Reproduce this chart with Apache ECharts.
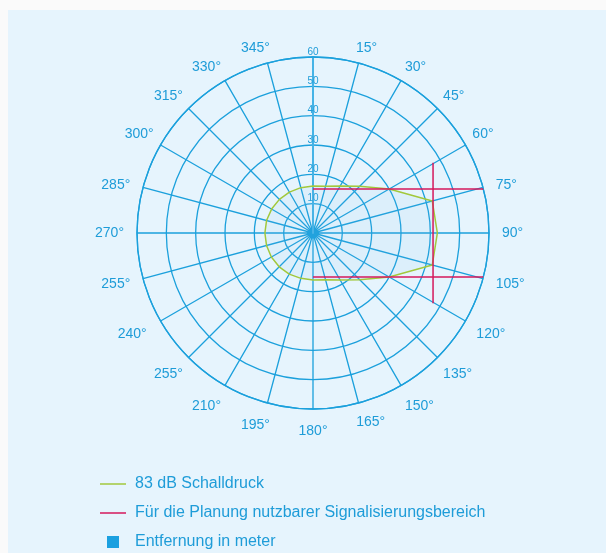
<!DOCTYPE html>
<html>
<head>
<meta charset="utf-8">
<script src="https://cdn.jsdelivr.net/npm/echarts@6/dist/echarts.min.js"></script>
<style>
  html, body { margin: 0; padding: 0; background: #fafafa; }
  #chart { position: absolute; left: 8px; top: 10px; width: 598px; height: 543px; background: #e6f4fd; }
</style>
</head>
<body>
<div id="chart"></div>
<script>
  // angle tick labels, one per 15 degrees (0 left empty, 225 printed as in the original)
  const angleLabels = ['', '15°', '30°', '45°', '60°', '75°', '90°', '105°', '120°', '135°', '150°', '165°',
    '180°', '195°', '210°', '255°', '240°', '255°', '270°', '285°', '300°', '315°', '330°', '345°', '']

  // 83 dB sound pressure contour: [distance m, angle deg]
  const greenAngles = [0, 15, 30, 45, 60, 75, 90, 105, 120, 135, 150, 165, 180,
    195, 210, 225, 240, 255, 270, 285, 300, 315, 330, 345, 360]
  const greenRadius = [16, 16.5, 18.5, 22.5, 30, 42.1, 42.4, 42.1, 30, 22.5, 18.5, 16.5, 16,
    16, 16.2, 16.3, 16.4, 16.4, 16.4, 16.4, 16.3, 16.2, 16.1, 16, 16]

  // usable signalling area boundary, three straight segments: [distance m, angle deg]
  const redTop = [[15, 0], [62.5, 76.1]]
  const redFront = [[47.4, 59.7], [47.4, 120.3]]
  const redBottom = [[62.5, 103.9], [15, 180]]

  const blue = '#1ba0dc'
  const textBlue = '#1e9cd8'
  const green = '#a2c83c'
  const red = '#d5195b'
  const font = 'Liberation Sans'

  // small paddings (top, right, bottom, left) so the angle labels sit like in the print
  const labelPadding = {
    1: [0, 0, 0, 12], 23: [0, 20, 0, 0],
    5: [0, 0, 0, 5], 6: [0, 0, 0, 5], 7: [8, 0, 0, 5],
    17: [8, 5, 0, 0], 18: [0, 5, 0, 0], 19: [0, 5, 0, 0],
    8: [2, 0, 0, 4], 16: [2, 7, 0, 0],
    9: [4, 0, 0, 0], 15: [4, 0, 0, 0],
    10: [7, 0, 0, 0], 12: [7, 0, 0, 0], 14: [7, 0, 0, 0],
    11: [4, 0, 0, 20], 13: [7, 20, 0, 0],
  }
  const labelRich = {}
  Object.keys(labelPadding).forEach(k => {
    labelRich['n' + k] = { fontSize: 14, color: textBlue, fontFamily: font, padding: labelPadding[k] }
  })

  const chart = echarts.init(document.getElementById('chart'))

  const redSeries = [redTop, redFront, redBottom].map(seg => ({
    name: 'Für die Planung nutzbarer Signalisierungsbereich',
    type: 'line',
    coordinateSystem: 'polar',
    symbol: 'none',
    clip: false,
    z: 4,
    lineStyle: { color: red, width: 1.5 },
    itemStyle: { color: red },
    data: seg,
  }))

  chart.setOption({
    animation: false,
    textStyle: { fontFamily: font },
    polar: { center: [305, 223], radius: 176 },
    angleAxis: {
      type: 'value',
      startAngle: 90,
      clockwise: true,
      min: 0,
      max: 360,
      interval: 15,
      axisLine: { lineStyle: { color: blue, width: 1.3 } },
      axisTick: { show: false },
      axisLabel: {
        margin: 8,
        fontSize: 14,
        color: textBlue,
        fontFamily: font,
        formatter: v => {
          const i = Math.round(v / 15)
          const t = angleLabels[i] || ''
          return labelPadding[i] && t ? '{n' + i + '|' + t + '}' : t
        },
        rich: labelRich,
      },
      splitLine: { lineStyle: { color: blue, width: 1.3 } },
    },
    radiusAxis: {
      type: 'value',
      min: 0,
      max: 60,
      interval: 10,
      axisLine: { lineStyle: { color: '#45b3e6', width: 2 } },
      axisTick: { show: false },
      axisLabel: {
        margin: 0,
        fontSize: 10,
        color: textBlue,
        fontFamily: font,
        align: 'center',
        verticalAlign: 'bottom',
        formatter: v => (v === 0 ? '' : String(v)),
      },
      splitLine: { lineStyle: { color: blue, width: 1.3 } },
    },
    legend: {
      orient: 'vertical',
      left: 92,
      top: 466,
      height: 90,
      padding: 0,
      itemWidth: 26,
      itemHeight: 12,
      itemGap: 13,
      selectedMode: false,
      textStyle: { fontSize: 16, color: textBlue, fontFamily: font, padding: [0, 0, 0, 4] },
      data: [
        { name: '83 dB Schalldruck', icon: 'path://M0,0H26V1.5H0Z' },
        { name: 'Für die Planung nutzbarer Signalisierungsbereich', icon: 'path://M0,0H26V1.5H0Z' },
        { name: 'Entfernung in meter', icon: 'path://M0,0H10V10H0Z' },
      ],
    },
    series: [
      {
        name: '83 dB Schalldruck',
        type: 'line',
        coordinateSystem: 'polar',
        symbol: 'none',
        z: 3,
        lineStyle: { color: green, width: 1.5 },
        itemStyle: { color: green },
        areaStyle: { color: 'rgba(120, 190, 235, 0.12)' },
        data: greenRadius.map((r, i) => [r, greenAngles[i]]),
      },
      ...redSeries,
      {
        name: 'Entfernung in meter',
        type: 'line',
        coordinateSystem: 'polar',
        symbol: 'none',
        itemStyle: { color: '#1ba0e0' },
        data: [],
      },
    ],
  })
</script>
</body>
</html>
